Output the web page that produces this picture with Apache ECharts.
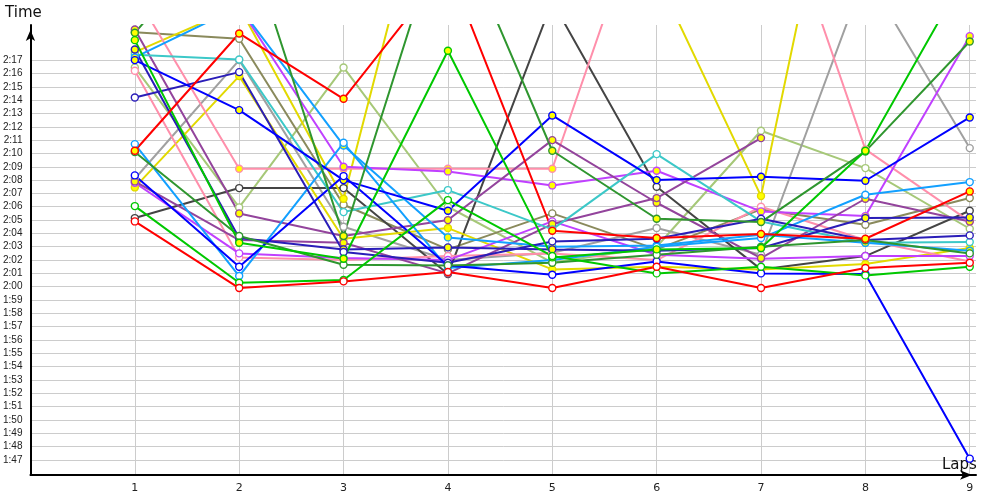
<!DOCTYPE html>
<html><head><meta charset="utf-8">
<script src="https://cdn.jsdelivr.net/npm/echarts@6/dist/echarts.min.js"></script>
<style>html,body{margin:0;padding:0;background:#fff}#c{width:1000px;height:500px}</style>
</head><body><div id="c"></div>
<script>
// ---- data (lap times in seconds) ----
const laps = [1, 2, 3, 4, 5, 6, 7, 8, 9];
const timeTicks = [107,108,109,110,111,112,113,114,115,116,117,118,119,120,121,122,123,124,125,126,127,128,129,130,131,132,133,134,135,136,137];

const redHollow     = [124.9, 119.9, 120.4, 121.1, 119.9, 121.5, 119.9, 121.4, 121.8];
const redFilled     = [130.2, 139.0, 134.1, 144.0, 124.2, 123.65, 123.95, 123.6, 127.15];
const greenHollow   = [126.05, 120.3, 120.5, 126.5, 122.3, 121.0, 121.5, 120.85, 121.5];
const greenFilled   = [138.5, 123.3, 122.1, 137.7, 122.2, 122.8, 122.9, 130.2, 144.0];
const dkGreenHollow = [130.1, 123.8, 121.65, 121.6, 121.8, 122.4, 123.0, 123.5, 122.5];
const dkGreenFilled = [139.05, 148.0, 123.8, 148.5, 130.2, 125.1, 124.85, 130.15, 138.4];
const blueHollow    = [128.35, 121.5, 128.3, 121.6, 120.9, 121.9, 121.0, 120.95, 107.1];
const blueFilled    = [137.0, 133.25, 128.0, 125.7, 132.85, 128.0, 128.25, 127.95, 132.7];
const navyHollow    = [134.2, 136.1, 122.6, 121.8, 123.4, 123.6, 125.1, 123.5, 123.85];
const navyFilled    = [137.8, 123.65, 122.8, 122.95, 122.8, 122.7, 122.9, 125.15, 125.2];
const ltBlueHollow  = [130.7, 120.8, 130.8, 121.4, 122.0, 123.0, 123.65, 126.9, 127.85];
const ltBlueFilled  = [137.2, 141.0, 130.6, 123.7, 123.0, 123.1, 123.9, 123.3, 122.7];
const cyanHollow    = [137.4, 137.05, 125.6, 127.25, 124.3, 129.95, 124.9, 123.3, 123.35];
const purpleFilled  = [139.3, 125.5, 123.8, 125.0, 131.0, 126.3, 122.15, 126.6, 124.9];
const purpleShort   = [127.9, 123.5, 123.3, 121.0, 124.7, 126.65, 131.15, null, null];
const violetHollow  = [127.8, 122.5, 122.15, 122.0, 124.9, 122.4, 122.1, 122.3, 122.3];
const violetFilled  = [150.0, 141.0, 129.0, 128.65, 127.6, 128.7, 125.65, 125.3, 138.8];
const pinkFilled    = [142.0, 128.85, 128.85, 128.85, 128.85, 151.5, 153.0, 130.3, 124.9];
const pinkHollow    = [136.2, 122.2, 122.0, 122.3, 122.5, 122.0, 126.0, 123.5, 121.9];
const yellowFilled  = [127.45, 135.8, 123.6, 124.4, 121.3, 121.5, 121.3, 121.7, 122.9];
const yellowSpike   = [137.6, 141.0, 126.6, 157.0, 160.0, 143.3, 126.8, 164.0, 150.0];
const ltGreenHollow = [136.45, 125.95, 136.45, 126.0, 121.8, 123.0, 131.7, 128.9, 124.35];
const oliveHollow   = [139.1, 138.6, 126.15, 122.8, 125.5, 122.8, 125.8, 124.65, 126.65];
const grayHollow    = [128.1, 137.0, 124.5, 122.0, 122.55, 124.4, 122.4, 143.5, 130.4];
const dkGrayHollow  = [125.15, 127.4, 127.4, 120.95, 141.4, 127.5, 121.3, 122.3, 125.7];

// ---- styling ----
const C = {
  red:'#ff0000', green:'#00c800', dkGreen:'#2f962f', blue:'#0000ff', navy:'#2a1db8',
  ltBlue:'#12a0ff', cyan:'#3cc8c8', purple:'#93449c', violet:'#c040ff', pink:'#ff8fab',
  yellow:'#e2d900', ltGreen:'#a6c878', olive:'#8a8a5c', gray:'#a0a0a0', dkGray:'#444444'
};
const seriesDefs = [
  [ltGreenHollow, C.ltGreen, false], [oliveHollow, C.olive, false], [grayHollow, C.gray, false],
  [dkGrayHollow, C.dkGray, false], [yellowSpike, C.yellow, true], [yellowFilled, C.yellow, true],
  [pinkFilled, C.pink, true], [pinkHollow, C.pink, false], [violetFilled, C.violet, true],
  [violetHollow, C.violet, false], [purpleFilled, C.purple, true], [purpleShort, C.purple, true],
  [cyanHollow, C.cyan, false], [ltBlueFilled, C.ltBlue, true], [ltBlueHollow, C.ltBlue, false],
  [navyFilled, C.navy, true], [navyHollow, C.navy, false], [blueFilled, C.blue, true],
  [blueHollow, C.blue, false], [dkGreenFilled, C.dkGreen, true], [dkGreenHollow, C.dkGreen, false],
  [greenFilled, C.green, true], [greenHollow, C.green, false], [redFilled, C.red, true],
  [redHollow, C.red, false]
];

function fmt(v) {
  const m = Math.floor(v / 60), s = Math.round(v - m * 60);
  return m + ':' + (s < 10 ? '0' : '') + s;
}

const series = seriesDefs.map(([vals, col, filled]) => ({
  type: 'line',
  data: laps.map((l, i) => [l, vals[i]]),
  connectNulls: false,
  symbol: 'circle',
  symbolSize: 7,
  showAllSymbol: true,
  lineStyle: { color: col, width: 2 },
  itemStyle: { color: filled ? '#ffff00' : '#ffffff', borderColor: col, borderWidth: 1.4 },
  emphasis: { disabled: true },
  animation: false
}));

const chart = echarts.init(document.getElementById('c'), null, { renderer: 'canvas' });
chart.setOption({
  backgroundColor: '#ffffff',
  animation: false,
  grid: { left: 30, right: 24, top: 25, bottom: 25, containLabel: false },
  xAxis: {
    type: 'value', min: 0, max: 9.06,
    name: 'Laps', nameLocation: 'end', nameGap: -34,
    nameTextStyle: { fontFamily: 'DejaVu Sans', fontSize: 15, color: '#111', verticalAlign: 'bottom', align: 'left', padding: [0, 0, 2, 0] },
    axisLine: { show: true, lineStyle: { color: '#000', width: 2 }, symbol: ['none', 'arrow'], symbolSize: [7, 12], symbolOffset: [0, -4] },
    axisTick: { show: false, customValues: laps },
    axisLabel: { customValues: laps, color: '#222', fontFamily: 'DejaVu Sans', fontSize: 11, margin: 8 },
    splitLine: { show: true, lineStyle: { color: '#cccccc', width: 1 } }
  },
  yAxis: {
    type: 'value', min: 105.875, max: 139.635,
    name: 'Time', nameLocation: 'end', nameGap: 4,
    nameTextStyle: { fontFamily: 'DejaVu Sans', fontSize: 15, color: '#111', padding: [0, 14, 0, 0] },
    axisLine: { show: true, lineStyle: { color: '#000', width: 2 }, symbol: ['none', 'arrow'], symbolSize: [7, 11], symbolOffset: [0, -5] },
    axisTick: { show: false, customValues: timeTicks },
    axisLabel: { customValues: timeTicks, formatter: fmt, color: '#222', fontFamily: 'Liberation Sans', fontSize: 10, margin: 8 },
    splitLine: { show: true, lineStyle: { color: '#cccccc', width: 1 } }
  },
  series: series
});
</script>
</body></html>
